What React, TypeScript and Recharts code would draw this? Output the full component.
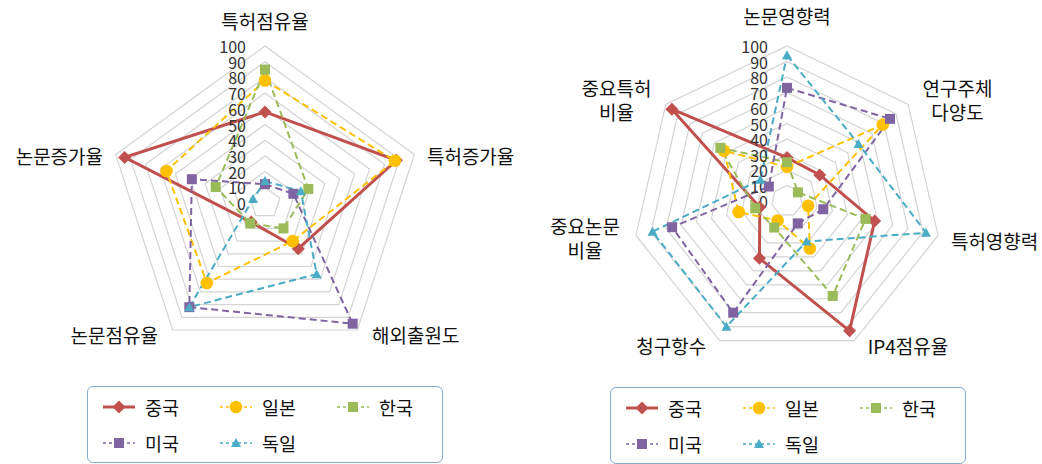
import React from "react";
import {
  RadarChart,
  Radar,
  PolarGrid,
  PolarAngleAxis,
  PolarRadiusAxis,
  Legend,
} from "recharts";

// 왼쪽 차트: 점유율/증가율
const leftAxes = ["특허점유율", "특허증가율", "해외출원도", "논문점유율", "논문증가율"];
const leftChina = [58, 88, 36, 15, 94];
const leftJapan = [78, 87, 30, 63, 66];
const leftKorea = [85, 29, 20, 16, 33];
const leftUsa = [12, 19, 95, 82, 49];
const leftGermany = [14, 24, 56, 82, 8];

// 오른쪽 차트: 질적 지표
const rightAxes = [
  "논문영향력",
  "연구주체\n다양도",
  "특허영향력",
  "IP4점유율",
  "청구항수",
  "중요논문\n비율",
  "중요특허\n비율",
];
const rightChina = [28, 27, 58, 93, 41, 18, 95];
const rightJapan = [22, 79, 14, 34, 14, 32, 52];
const rightKorea = [25, 9, 52, 68, 19, 21, 55];
const rightUsa = [73, 85, 24, 16, 80, 76, 15];
const rightGermany = [94, 59, 92, 29, 90, 89, 22];

const radiusTicks = [0, 10, 20, 30, 40, 50, 60, 70, 80, 90, 100];

const seriesNames = ["중국", "일본", "한국", "미국", "독일"];
const seriesColors = ["#C0504D", "#FFC000", "#9BBB59", "#8064A2", "#4BACC6"];
const seriesMarkers = ["diamond", "circle", "square", "square", "triangle"];

const FONT = "'Noto Sans CJK KR', 'Noto Sans', sans-serif";

function buildRows(axes: string[], cols: number[][]) {
  return axes.map((axis, i) => {
    const row: Record<string, string | number> = { axis };
    seriesNames.forEach((n, k) => {
      row[n] = cols[k][i];
    });
    return row;
  });
}

const leftRows = buildRows(leftAxes, [leftChina, leftJapan, leftKorea, leftUsa, leftGermany]);
const rightRows = buildRows(rightAxes, [rightChina, rightJapan, rightKorea, rightUsa, rightGermany]);

function Marker({ shape, cx, cy, color }: { shape: string; cx: number; cy: number; color: string }) {
  if (shape === "diamond") {
    const s = 6.5;
    return <path d={`M${cx},${cy - s}L${cx + s},${cy}L${cx},${cy + s}L${cx - s},${cy}Z`} fill={color} />;
  }
  if (shape === "circle") return <circle cx={cx} cy={cy} r={6.3} fill={color} />;
  if (shape === "square") return <rect x={cx - 5} y={cy - 5} width={10} height={10} fill={color} />;
  return <path d={`M${cx},${cy - 5}L${cx + 5},${cy + 4}L${cx - 5},${cy + 4}Z`} fill={color} />;
}

const radiusTick = (props: any) => {
  const { x, y, payload } = props;
  return (
    <text x={x - 19} y={y} textAnchor="end" dominantBaseline="central" fontSize={16} fill="#333" fontFamily={FONT}>
      {payload.value}
    </text>
  );
};

const makeAngleTick = (cx: number, cy: number, topGap: number) => (props: any) => {
  const { x, y, payload } = props;
  const lines = String(payload.value).split("\n");
  const fs = 19;
  const lh = 24;
  const dx = x - cx;
  const dy = y - cy;
  let anchor: "start" | "end" | "middle" = "middle";
  let tx = x;
  let ty = y;
  if (Math.abs(dx) < 1) {
    ty = y - topGap;
  } else {
    const side = dx > 0 ? 1 : -1;
    const lower = dy > 60;
    if (lines.length > 1) {
      const widest = Math.max(...lines.map((l) => l.length));
      tx = x + side * (5 + (widest * fs) / 2);
    } else {
      anchor = side > 0 ? "start" : "end";
      tx = x + side * (lower ? 10 : 5);
      ty = y + (lower ? -2 : 3);
    }
  }
  const top = ty - ((lines.length - 1) * lh) / 2;
  return (
    <g>
      {lines.map((l, i) => (
        <text
          key={i}
          x={tx}
          y={top + i * lh}
          textAnchor={anchor}
          dominantBaseline="central"
          fontSize={fs}
          fill="#111"
          fontFamily={FONT}
        >
          {l}
        </text>
      ))}
    </g>
  );
};

function LegendBox() {
  return (
    <div
      style={{
        width: 356,
        height: 77,
        border: "1.3px solid #86aad0",
        borderRadius: 6,
        boxSizing: "border-box",
        position: "relative",
        background: "#fff",
        fontFamily: FONT,
      }}
    >
      {seriesNames.map((name, i) => {
        const col = i % 3;
        const row = Math.floor(i / 3);
        const dashed = i > 0;
        return (
          <div
            key={name}
            style={{
              position: "absolute",
              left: 15 + col * 117,
              top: 10 + row * 36,
              height: 20,
              display: "flex",
              alignItems: "center",
            }}
          >
            <svg width={32} height={20}>
              <line
                x1={0}
                y1={10}
                x2={32}
                y2={10}
                stroke={seriesColors[i]}
                strokeWidth={dashed ? 1.5 : 3}
                strokeDasharray={dashed ? "3 3" : undefined}
              />
              <Marker shape={seriesMarkers[i]} cx={16} cy={10} color={seriesColors[i]} />
            </svg>
            <span style={{ marginLeft: 10, fontSize: 18.5, lineHeight: "20px", color: "#111" }}>{name}</span>
          </div>
        );
      })}
    </div>
  );
}

function CountryRadar({
  rows,
  cx,
  cy,
  r,
  topGap,
  legendLeft,
  legendTop,
}: {
  rows: Record<string, string | number>[];
  cx: number;
  cy: number;
  r: number;
  topGap: number;
  legendLeft: number;
  legendTop: number;
}) {
  return (
    <RadarChart width={521} height={464} data={rows} cx={cx} cy={cy} outerRadius={r} margin={{ top: 0, right: 0, bottom: 0, left: 0 }}>
      <PolarGrid gridType="polygon" radialLines={false} stroke="#d4d4d4" strokeWidth={1.2} />
      <PolarAngleAxis dataKey="axis" axisLine={false} tickLine={false} tick={makeAngleTick(cx, cy, topGap)} />
      <PolarRadiusAxis
        angle={90}
        domain={[0, 100]}
        ticks={radiusTicks}
        tickCount={11}
        axisLine={false}
        tickLine={false}
        tick={radiusTick}
      />
      {seriesNames.map((name, i) => (
        <Radar
          key={name}
          name={name}
          dataKey={name}
          stroke={seriesColors[i]}
          strokeWidth={i === 0 ? 3 : 2}
          strokeDasharray={i === 0 ? undefined : "7 4"}
          fill="none"
          fillOpacity={0}
          isAnimationActive={false}
          dot={(p: any) => (
            <Marker key={`${name}-${p.index}`} shape={seriesMarkers[i]} cx={p.cx} cy={p.cy} color={seriesColors[i]} />
          )}
        />
      ))}
      <Legend content={() => <LegendBox />} wrapperStyle={{ left: legendLeft, top: legendTop, width: 356 }} />
    </RadarChart>
  );
}

export default function App() {
  return (
    <div style={{ position: "absolute", left: 0, top: 0, width: 1042, height: 464, background: "#fff" }}>
      <div style={{ position: "absolute", left: 0, top: 0 }}>
        <CountryRadar rows={leftRows} cx={265} cy={203} r={157} topGap={18} legendLeft={87} legendTop={386} />
      </div>
      <div style={{ position: "absolute", left: 521, top: 0 }}>
        <CountryRadar rows={rightRows} cx={266} cy={201} r={155} topGap={23} legendLeft={89} legendTop={387} />
      </div>
    </div>
  );
}
